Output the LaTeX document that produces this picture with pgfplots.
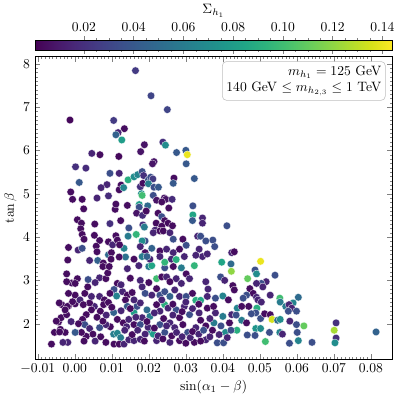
\documentclass[border=0pt]{standalone}
\usepackage{pgfplots}
\pgfplotsset{compat=1.18}
\usepackage{pgfplotstable}

% x = sin(alpha_1 - beta), y = tan beta, c = Sigma_h1
\pgfplotstableread{
x y c
0.0164 7.84 0.025
0.0206 7.26 0.03
0.025 6.94 0.03
-0.0013 6.70 0.003
0.0105 6.69 0.025
0.0134 6.50 0.005
0.0117 6.41 0.015
0.0111 6.36 0.045
0.0127 6.24 0.08
0.0188 6.13 0.008
0.0238 6.19 0.02
0.0245 6.12 0.07
0.0178 5.97 0.008
0.0046 5.93 0.015
0.0068 5.90 0.005
0.0119 5.86 0.003
0.0275 5.95 0.04
0.030 6.00 0.04
0.0304 5.90 0.14
0.0214 5.74 0.008
0.021 5.69 0.008
0.0301 5.69 0.04
0.0002 5.62 0.02
0.003 5.59 0.018
0.0012 5.26 0.04
0.0095 5.47 0.035
0.012 5.47 0.015
0.0087 5.21 0.015
0.0071 5.14 0.015
0.0125 5.20 0.005
0.012 5.09 0.005
0.0132 5.14 0.065
0.0144 5.32 0.09
0.016 5.39 0.07
0.017 5.44 0.065
0.0182 5.51 0.035
0.0186 5.42 0.02
0.0177 5.16 0.02
0.0184 5.24 0.005
0.0199 5.32 0.035
0.0205 5.38 0.035
0.0211 5.34 0.025
0.0199 5.23 0.06
0.0214 5.15 0.035
0.0226 5.15 0.04
0.0212 4.96 0.035
0.018 5.00 0.07
0.0182 4.96 0.10
0.0174 4.75 0.08
0.0174 4.69 0.035
0.0197 4.72 0.05
0.0221 4.85 0.008
0.0242 4.90 0.008
0.0246 4.87 0.008
0.0235 4.81 0.005
0.0263 4.87 0.018
0.0254 4.67 0.005
0.0268 5.36 0.005
0.0266 5.24 0.04
0.0323 5.35 0.04
0.0319 4.72 0.035
0.0319 4.51 0.085
0.0318 4.38 0.04
0.0142 4.73 0.005
0.0167 4.55 0.008
0.0183 4.50 0.018
0.0193 4.60 0.005
0.0225 4.55 0.005
0.0235 4.47 0.035
0.0243 4.38 0.005
0.022 4.32 0.005
0.0252 4.32 0.005
0.0264 4.26 0.005
0.0184 4.28 0.02
0.0188 4.23 0.06
0.0146 4.21 0.035
0.0109 4.64 0.005
0.0091 4.95 0.018
0.006 4.90 0.015
0.0024 4.65 0.005
0.002 4.87 0.005
-0.0006 4.87 0.005
-0.0011 5.04 0.005
0.0007 4.40 0.005
0.0018 4.32 0.005
0.0054 4.30 0.005
0.0095 4.31 0.02
0.0124 4.38 0.005
0.0111 4.76 0.005
0.0016 4.19 0.005
0.002 4.06 0.005
0.0025 3.95 0.005
0.0053 4.04 0.005
0.0067 3.92 0.005
0.0091 3.89 0.005
0.0102 3.82 0.015
0.0111 4.03 0.005
0.0115 3.93 0.005
0.0144 4.02 0.06
0.0166 4.06 0.095
0.0133 3.74 0.065
0.0121 3.82 0.005
-0.0017 3.76 0.005
0.0009 3.70 0.015
0.002 3.74 0.035
0.0058 3.79 0.005
0.006 3.66 0.005
0.0091 3.59 0.05
0.0099 3.64 0.005
0.0098 3.49 0.005
0.0137 3.54 0.055
0.016 3.49 0.005
-0.0019 3.47 0.005
0.004 3.46 0.015
0.0062 3.46 0.045
0.0077 3.40 0.005
0.012 3.54 0.005
-0.0022 3.15 0.005
-0.0008 2.94 0.005
0.0007 3.04 0.005
0.0036 3.02 0.035
0.0067 3.06 0.015
0.0084 3.04 0.005
0.0089 3.17 0.005
0.0076 3.32 0.005
0.0093 3.32 0.005
0.0142 3.27 0.015
0.0115 2.93 0.005
0.0106 2.79 0.035
0.0113 2.64 0.065
0.0129 2.74 0.015
0.0142 2.66 0.005
0.0155 2.72 0.005
0.0137 2.55 0.005
0.016 2.26 0.08
0.0168 2.40 0.035
0.0142 2.40 0.04
0.0105 2.26 0.045
0.0115 2.10 0.005
0.0131 2.02 0.005
0.0146 2.10 0.015
0.014 1.93 0.015
0.016 1.98 0.005
0.0105 1.76 0.06
0.0115 1.78 0.065
0.0124 1.68 0.06
0.0106 1.53 0.005
0.012 1.53 0.005
0.0133 1.53 0.015
0.0146 1.63 0.015
0.016 1.61 0.015
0.0084 1.57 0.005
0.0096 1.93 0.005
0.0084 1.98 0.015
0.0067 1.91 0.035
0.0076 2.06 0.005
0.0069 2.29 0.005
0.0053 2.40 0.015
0.004 2.48 0.005
0.0045 2.32 0.005
0.0031 2.21 0.005
0.0021 2.10 0.005
0.0027 1.98 0.035
0.004 1.89 0.015
0.0049 1.76 0.005
0.0031 1.71 0.005
0.0018 1.80 0.005
0.0001 1.80 0.04
-0.0019 1.57 0.015
-0.0026 1.80 0.005
-0.0039 1.87 0.005
-0.0044 2.04 0.005
-0.0037 2.14 0.005
-0.0022 2.21 0.005
-0.0017 2.41 0.005
-0.0035 2.44 0.005
0.0001 2.46 0.005
0.0001 2.66 0.005
0.0014 2.55 0.015
0.0027 2.70 0.005
0.0045 2.63 0.015
0.0067 2.63 0.015
0.008 2.55 0.005
0.0078 2.44 0.005
0.0091 2.49 0.005
-0.0042 2.48 0.005
-0.0063 1.53 0.005
-0.005 2.06 0.005
-0.0055 1.80 0.005
-0.0041 1.81 0.005
-0.0032 1.57 0.015
-0.002 2.40 0.005
-0.0022 2.97 0.005
-0.0026 2.32 0.005
-0.0006 2.51 0.005
-0.0017 2.70 0.005
0.0001 2.93 0.005
0.0023 2.44 0.005
0.0177 3.00 0.015
0.0173 3.34 0.015
0.020 3.32 0.06
0.0208 3.34 0.085
0.0221 3.04 0.10
0.0235 3.08 0.005
0.0248 3.08 0.015
0.0243 3.29 0.035
0.0266 3.32 0.005
0.0288 3.29 0.06
0.0323 3.34 0.095
0.0301 3.15 0.005
0.031 3.04 0.015
0.0274 3.04 0.015
0.0257 2.97 0.005
0.0288 2.93 0.015
0.0354 2.97 0.015
0.0394 3.08 0.035
0.0405 3.00 0.015
0.0182 2.85 0.015
0.019 2.70 0.035
0.0208 2.66 0.015
0.0221 2.81 0.005
0.023 2.66 0.035
0.0243 2.74 0.035
0.0257 2.63 0.045
0.027 2.78 0.015
0.0283 2.63 0.015
0.0301 2.63 0.035
0.0318 2.70 0.005
0.0327 2.54 0.09
0.034 2.54 0.085
0.0358 2.63 0.015
0.038 2.59 0.035
0.040 2.64 0.065
0.0415 2.55 0.005
0.0243 2.44 0.09
0.0221 2.44 0.005
0.0177 2.48 0.015
0.0195 2.32 0.05
0.0203 2.17 0.06
0.0182 2.14 0.015
0.023 2.29 0.015
0.0252 2.36 0.015
0.0274 2.32 0.035
0.0296 2.40 0.015
0.0283 2.14 0.005
0.031 2.21 0.035
0.0336 2.25 0.015
0.0358 2.36 0.005
0.038 2.25 0.015
0.040 2.17 0.06
0.0424 2.21 0.015
0.0177 1.98 0.035
0.0203 1.83 0.065
0.0212 1.76 0.08
0.019 1.76 0.015
0.023 1.98 0.035
0.0257 2.02 0.015
0.0243 1.80 0.035
0.027 1.91 0.015
0.0292 1.98 0.005
0.0305 1.80 0.035
0.0327 1.91 0.015
0.0354 1.95 0.005
0.0376 2.02 0.06
0.0407 1.80 0.07
0.0177 1.64 0.015
0.0221 1.61 0.015
0.0257 1.57 0.015
0.0283 1.61 0.005
0.0323 1.57 0.005
0.0354 1.63 0.015
0.0385 1.56 0.035
0.0402 1.56 0.035
0.0345 4.44 0.015
0.0345 4.32 0.015
0.0411 4.26 0.035
0.0235 4.25 0.005
0.0217 4.16 0.015
0.023 4.14 0.005
0.0239 4.14 0.005
0.0257 4.10 0.015
0.0266 3.95 0.035
0.0292 3.95 0.005
0.0301 3.81 0.035
0.0332 4.02 0.015
0.034 4.02 0.035
0.0354 3.91 0.035
0.0373 3.93 0.035
0.0378 3.78 0.035
0.0424 3.64 0.015
0.0212 4.10 0.015
0.019 3.91 0.035
0.0182 3.91 0.07
0.0177 3.78 0.015
0.019 3.64 0.005
0.0208 3.74 0.045
0.023 3.68 0.005
0.023 3.55 0.015
0.0248 3.72 0.015
0.0266 3.64 0.015
0.0261 3.49 0.015
0.0283 3.72 0.005
0.0296 3.55 0.015
0.0336 3.72 0.015
0.0345 3.55 0.015
0.0358 3.61 0.015
0.0327 3.58 0.015
0.0243 3.42 0.095
0.0274 3.48 0.09
0.0203 3.49 0.015
0.0182 3.55 0.06
0.0195 3.55 0.045
0.0397 3.42 0.085
0.0431 3.66 0.005
0.0422 3.38 0.05
0.0423 3.21 0.12
0.0502 3.44 0.14
0.0487 3.24 0.035
0.0491 3.15 0.07
0.0467 3.04 0.11
0.0517 2.97 0.015
0.0541 3.12 0.035
0.0504 2.93 0.035
0.0508 2.85 0.015
0.0491 2.93 0.015
0.0427 2.88 0.005
0.0431 2.78 0.005
0.0473 2.81 0.005
0.0482 2.70 0.005
0.0464 2.66 0.035
0.0455 2.59 0.035
0.0491 2.61 0.015
0.0495 2.55 0.015
0.0504 2.50 0.015
0.0528 2.66 0.015
0.0554 2.59 0.10
0.0555 2.50 0.06
0.0604 2.61 0.05
0.059 2.48 0.065
0.057 2.40 0.06
0.0579 2.44 0.015
0.0586 2.36 0.015
0.0577 2.29 0.035
0.0599 2.29 0.035
0.0439 2.36 0.065
0.0451 2.40 0.005
0.047 2.40 0.005
0.0492 2.36 0.09
0.0489 2.25 0.035
0.0477 2.23 0.035
0.0436 2.20 0.035
0.0451 2.08 0.06
0.0464 2.02 0.005
0.0502 2.12 0.035
0.0513 2.23 0.005
0.0528 2.21 0.005
0.0533 2.10 0.135
0.0548 2.08 0.05
0.0555 2.10 0.07
0.0581 2.06 0.015
0.0599 1.98 0.035
0.0619 1.95 0.11
0.0438 1.85 0.09
0.0422 1.85 0.035
0.0489 1.89 0.075
0.0502 1.89 0.07
0.0466 1.74 0.035
0.0487 1.73 0.035
0.0526 1.80 0.035
0.0554 1.80 0.065
0.0561 1.76 0.015
0.0601 1.80 0.035
0.0515 1.59 0.10
0.058 1.55 0.035
0.0604 1.61 0.065
0.0641 1.57 0.035
0.0706 2.02 0.02
0.0701 1.85 0.125
0.0706 1.67 0.02
0.0703 1.56 0.07
0.0814 1.81 0.045
0.0135 1.85 0.015
0.0155 1.75 0.005
0.0170 1.85 0.015
0.0188 1.60 0.005
0.0198 1.92 0.015
0.0215 1.90 0.005
0.0225 1.72 0.015
0.0238 1.65 0.005
0.0248 1.95 0.015
0.0262 1.72 0.005
0.0275 1.80 0.015
0.0290 1.70 0.015
0.0300 1.55 0.005
0.0312 1.68 0.015
0.0318 1.82 0.005
0.0335 1.76 0.015
0.0340 1.60 0.005
0.0348 1.85 0.035
0.0365 1.70 0.015
0.0372 1.85 0.005
0.0390 1.75 0.015
0.0395 1.95 0.035
0.0412 1.68 0.015
0.0418 2.02 0.005
0.0365 2.12 0.015
0.0340 2.08 0.005
0.0318 2.35 0.015
0.0290 2.28 0.005
0.0265 2.20 0.015
0.0240 2.12 0.005
0.0215 2.25 0.015
0.0195 2.05 0.005
0.0165 2.15 0.015
0.0150 2.35 0.005
0.0125 2.30 0.015
0.0100 2.38 0.005
0.0085 2.20 0.015
0.0060 2.15 0.005
0.0055 1.60 0.015
0.0070 1.70 0.005
0.0025 1.60 0.005
0.0010 2.00 0.005
-0.0010 2.05 0.015
0.0035 2.85 0.005
0.0055 2.95 0.015
0.0095 2.70 0.005
0.0125 2.90 0.015
0.0150 3.05 0.005
0.0160 2.55 0.015
0.0200 2.95 0.005
0.0235 2.55 0.015
0.0265 2.45 0.005
0.0300 2.50 0.015
0.0335 2.45 0.005
0.0360 2.80 0.015
0.0375 2.40 0.005
}\scan

\begin{document}
\begin{tikzpicture}
\begin{axis}[
    name=ax,
    scale only axis,
    width=262.1bp, height=221.8bp,
    xmin=-0.0108, xmax=0.0858,
    ymin=1.18, ymax=8.16,
    xtick={-0.01,0,...,0.08},
    ytick={2,3,...,8},
    minor x tick num=9,
    minor y tick num=9,
    tick align=inside,
    tick pos=both,
    major tick length=4pt,
    minor tick length=2pt,
    xticklabel style={/pgf/number format/.cd,fixed,fixed zerofill,precision=2},
    scaled x ticks=false,
    xlabel={$\sin(\alpha_1-\beta)$},
    ylabel={$\tan\beta$},
    xlabel style={yshift=2pt},
    ylabel style={yshift=-2pt},
    colormap/viridis,
    point meta min=0.0003, point meta max=0.144,
    colorbar horizontal,
    colorbar shift/.style={},
    colorbar style={
        at={(parent axis.north west)}, anchor=south west, yshift=5bp,
        scale only axis, width=262.1bp, height=7.2bp,
        xticklabel pos=upper,
        xtick={0.02,0.04,...,0.14},
        minor x tick num=3,
        xtick align=outside,
        xticklabel style={/pgf/number format/.cd,fixed,fixed zerofill,precision=2},
        scaled x ticks=false,
        major tick length=3pt, minor tick length=1.5pt,
        xlabel={$\Sigma_{h_1}$},
        xlabel style={yshift=-3pt},
    },
]
\addplot[scatter, only marks, mark=*, mark size=2.8bp,
    scatter src=explicit,
    scatter/use mapped color={draw=white, fill=mapped color},
    line width=0.2pt] table[x=x, y=y, meta=c] {\scan};
\node[draw=black!25, rounded corners=3pt, fill=white, align=right,
      anchor=north east, inner sep=3pt]
    at (rel axis cs:0.981,0.985)
    {$m_{h_1}=125$ GeV\\140 GeV $\leq m_{h_{2,3}}\leq 1$ TeV};
\end{axis}
\path ([xshift=-22.3bp,yshift=-26.6bp]ax.south west) rectangle ([xshift=2.9bp,yshift=38.9bp]ax.north east);
\end{tikzpicture}
\end{document}
